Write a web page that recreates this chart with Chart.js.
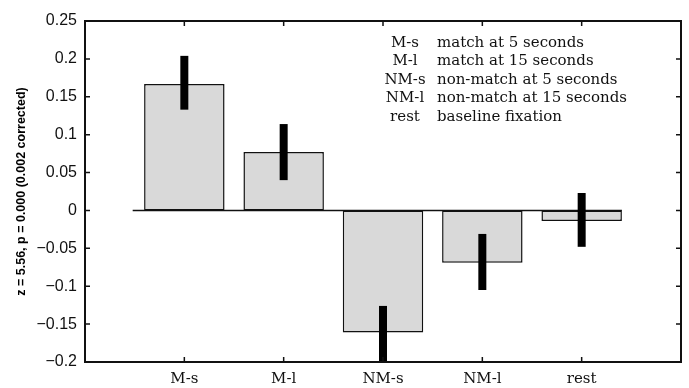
<!DOCTYPE html>
<html>
<head>
<meta charset="utf-8">
<script src="https://cdn.jsdelivr.net/npm/chart.js@4"></script>
<style>
  html, body { margin: 0; padding: 0; background: #fff; }
  #wrap { width: 689px; height: 388px; }
</style>
</head>
<body>
<div id="wrap"><canvas id="chart" width="689" height="388"></canvas></div>
<script>
// conditions (empty slots at both ends keep the spacing of the original axis)
const labels = ["", "M-s", "M-l", "NM-s", "NM-l", "rest", ""];
const values = [null, 0.167, 0.077, -0.161, -0.069, -0.014, null];
const errTop = [null, 0.204, 0.114, -0.126, -0.031, 0.023, null];
const errBottom = [null, 0.133, 0.040, -0.199, -0.105, -0.048, null];

const legendCodes = ["M-s", "M-l", "NM-s", "NM-l", "rest"];
const legendNames = [
  "match at 5 seconds",
  "match at 15 seconds",
  "non-match at 5 seconds",
  "non-match at 15 seconds",
  "baseline fixation"
];

const yTicks = [0.25, 0.2, 0.15, 0.1, 0.05, 0, -0.05, -0.1, -0.15, -0.2];

const serif = "'DejaVu Serif', 'Liberation Serif', serif";
const sans = "'Liberation Sans', Arial, sans-serif";

function fmt(v) {
  const s = String(parseFloat(v.toFixed(2)));
  return s.replace("-", "\u2212");
}

// zero line, error bars, box frame with inward ticks, text key
const extras = {
  id: "extras",
  beforeDatasetsDraw(chart) {
    const { ctx, scales } = chart;
    const x = scales.x, y = scales.y;
    const meta = chart.getDatasetMeta(0);
    const last = meta.data[5];
    ctx.save();
    ctx.strokeStyle = "#111";
    ctx.lineWidth = 1.5;
    ctx.beginPath();
    ctx.moveTo(x.getPixelForValue(0.48), y.getPixelForValue(0));
    ctx.lineTo(last.x + last.width / 2, y.getPixelForValue(0));
    ctx.stroke();
    ctx.restore();
  },
  afterDatasetsDraw(chart) {
    const { ctx, scales } = chart;
    const x = scales.x, y = scales.y;
    ctx.save();
    ctx.strokeStyle = "#000";
    ctx.lineWidth = 8;
    ctx.lineCap = "butt";
    values.forEach((v, i) => {
      if (v === null) return;
      const px = x.getPixelForValue(i);
      ctx.beginPath();
      ctx.moveTo(px, y.getPixelForValue(errTop[i]));
      ctx.lineTo(px, y.getPixelForValue(errBottom[i]));
      ctx.stroke();
    });
    ctx.restore();
  },
  afterDraw(chart) {
    const { ctx, chartArea, scales } = chart;
    const { left, right, top, bottom } = chartArea;
    const x = scales.x, y = scales.y;
    ctx.save();
    ctx.strokeStyle = "#111";
    ctx.lineWidth = 2;
    ctx.strokeRect(left, top, right - left, bottom - top);
    ctx.lineWidth = 1.5;
    ctx.beginPath();
    yTicks.forEach(t => {
      const py = y.getPixelForValue(t);
      ctx.moveTo(left, py); ctx.lineTo(left + 5, py);
      ctx.moveTo(right, py); ctx.lineTo(right - 5, py);
    });
    for (let i = 1; i <= 5; i++) {
      const px = x.getPixelForValue(i);
      ctx.moveTo(px, bottom); ctx.lineTo(px, bottom - 5);
      ctx.moveTo(px, top); ctx.lineTo(px, top + 5);
    }
    ctx.stroke();

    // key in the upper right
    ctx.fillStyle = "#111";
    ctx.font = "15px " + serif;
    ctx.textBaseline = "middle";
    legendCodes.forEach((c, i) => {
      const rowY = 43 + i * 18.5;
      ctx.textAlign = "center";
      ctx.fillText(c, 405, rowY);
      ctx.textAlign = "left";
      ctx.fillText(legendNames[i], 437, rowY);
    });
    ctx.restore();
  }
};

new Chart(document.getElementById("chart"), {
  type: "bar",
  data: {
    labels: labels,
    datasets: [{
      data: values,
      backgroundColor: "#d9d9d9",
      borderColor: "#111",
      borderWidth: 1.5,
      borderSkipped: false,
      barPercentage: 0.9,
      categoryPercentage: 0.9
    }]
  },
  options: {
    responsive: false,
    animation: false,
    layout: { padding: { top: 21, right: 6, left: 0, bottom: 0 } },
    plugins: {
      legend: { display: false },
      tooltip: { enabled: false }
    },
    scales: {
      x: {
        offset: false,
        grid: { display: false, drawTicks: false },
        border: { display: false },
        ticks: {
          color: "#111",
          font: { family: serif, size: 15 },
          padding: 8,
          maxRotation: 0,
          autoSkip: false
        },
        afterFit(scale) { scale.height = 26; }
      },
      y: {
        min: -0.2,
        max: 0.25,
        grid: { display: false, drawTicks: false },
        border: { display: false },
        ticks: {
          stepSize: 0.05,
          color: "#111",
          font: { family: sans, size: 16 },
          padding: 8,
          callback: v => fmt(v)
        },
        title: {
          display: true,
          text: "z = 5.56, p = 0.000 (0.002 corrected)",
          color: "#000",
          font: { family: sans, size: 12.5, weight: "bold" },
          padding: { top: 14, bottom: 0 }
        },
        afterFit(scale) { scale.width = 85; }
      }
    }
  },
  plugins: [extras]
});
</script>
</body>
</html>
